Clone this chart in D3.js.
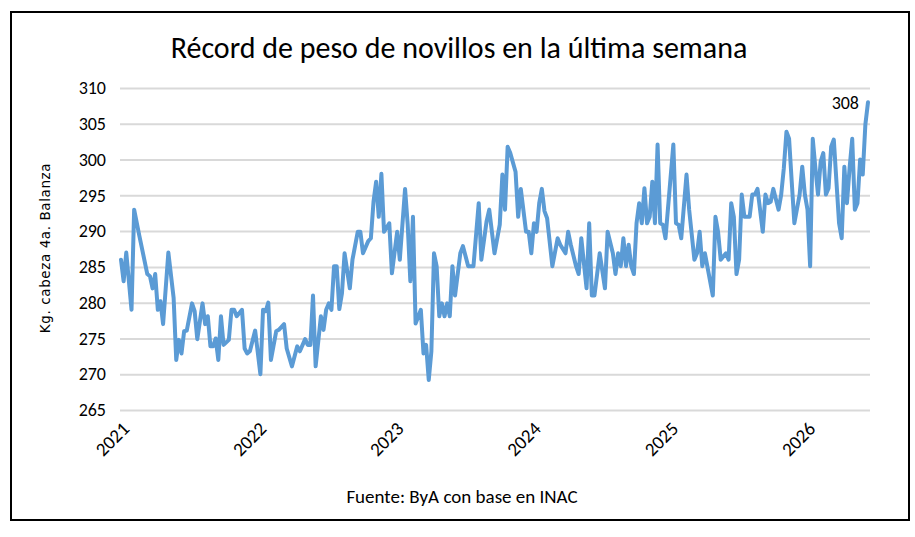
<!DOCTYPE html>
<html>
<head>
<meta charset="utf-8">
<script src="https://cdn.jsdelivr.net/npm/d3@7"></script>
<style>
	body { margin: 0; background: #fff; }
	svg { display: block; }
</style>
</head>
<body>
<svg id="svg" width="915" height="537"></svg>
<script>

// semanas desde el 1/1/2021 (puntos de quiebre)
var weeks = [0, 1, 2, 4, 5, 7, 10, 11, 12, 13, 14, 15, 16, 18, 20, 21, 22, 23, 24, 25,
	27, 28, 29, 31, 32, 33, 34, 35, 36, 37, 38, 39, 41, 42, 43, 44, 46, 47, 48, 49,
	51, 53, 54, 55, 56, 57, 59, 60, 62, 63, 65, 67, 68, 70, 71, 72, 73, 74, 76, 77,
	78, 79, 80, 81, 82, 83, 84, 85, 87, 88, 90, 91, 92, 94, 95, 96, 97, 98, 99, 100,
	102, 103, 105, 106, 108, 109, 110, 111, 112, 114, 115, 116, 117, 118, 119, 120, 121, 122, 123, 124,
	125, 126, 127, 129, 130, 132, 134, 136, 137, 139, 140, 142, 144, 145, 146, 147, 148, 150, 151, 152,
	154, 155, 156, 157, 158, 159, 160, 161, 162, 164, 166, 167, 169, 170, 171, 173, 174, 175, 177, 178,
	179, 180, 182, 184, 185, 187, 188, 189, 190, 191, 192, 193, 194, 195, 196, 197, 198, 199, 200, 201,
	202, 203, 204, 205, 206, 207, 210, 211, 212, 213, 215, 216, 218, 219, 220, 221, 222, 225, 226, 227,
	228, 230, 231, 232, 233, 234, 235, 236, 237, 239, 240, 241, 242, 244, 245, 246, 247, 248, 250, 251,
	252, 253, 254, 255, 256, 258, 259, 260, 261, 262, 263, 264, 265, 266, 267, 268, 269, 270, 271, 272,
	273, 274, 275, 276, 277, 278, 279, 280, 281, 282, 283, 284];

// kg por cabeza
var values = [286, 283, 287, 279, 293, 289.3, 284, 283.7, 282, 284, 279, 280.2, 277, 287, 280.7, 272, 274.8, 272.9, 276, 276.1,
	279.9, 278.8, 274.9, 279.9, 277, 278.1, 273.9, 273.9, 275, 272, 278.1, 274.1, 274.8, 279, 279, 278.1, 279, 273.6, 272.9, 273.2,
	276.1, 270, 279, 278.8, 280, 272, 276, 276.2, 277, 273.6, 271.1, 273.9, 273.2, 274.9, 274.1, 274.1, 281, 271.1, 278.1, 276.2,
	279, 279.9, 279, 285.1, 285.1, 279.1, 281.3, 286.9, 282, 286, 289.9, 289.9, 286.9, 288.6, 289, 294.1, 296.9, 292, 298, 289.9,
	291.1, 284.1, 289.9, 286, 295.9, 290.9, 283, 292, 277.1, 279, 272.9, 274.1, 269.2, 273.2, 286.9, 285.1, 278.1, 279.9, 278.1, 279.9,
	278.1, 285.1, 281, 286.9, 287.9, 285.1, 285.1, 293.9, 286, 291.4, 293, 286.9, 290.9, 297.9, 293, 301.8, 300.9, 298.3, 292, 295.9,
	289.9, 289.9, 286.9, 291.1, 289.9, 293.9, 295.9, 292.8, 291.8, 285.1, 289, 288.1, 286.9, 289.9, 288.1, 285.1, 284, 289, 282, 291.1,
	281, 281, 286.9, 282, 289.9, 286.9, 284, 286.9, 285.1, 289, 285.1, 288.1, 285.1, 284, 291.1, 293.9, 291.1, 296, 291.1, 292,
	296.9, 291.1, 302.1, 291.1, 290.9, 289, 302.1, 291.1, 290.9, 289, 297.9, 293, 286, 286.9, 289.9, 285.1, 286.9, 281, 292, 289.9,
	286, 286.9, 286, 293.9, 292, 284, 286, 295.1, 292, 292, 295.1, 295.1, 295.9, 289.9, 295.1, 293.9, 294.1, 295.9, 293, 295.1,
	298.8, 303.9, 302.9, 296.9, 291.1, 295.1, 299, 295.1, 293, 285.1, 302.9, 298.8, 295.1, 299.7, 300.9, 295.1, 296, 301.8, 302.8, 296.9,
	291.1, 289, 299, 293.9, 298.8, 302.9, 293, 293.9, 300, 297.9, 304.9, 308];

var yTicks = [265, 270, 275, 280, 285, 290, 295, 300, 305, 310];
var years = [2021, 2022, 2023, 2024, 2025, 2026];

var title = "Récord de peso de novillos en la última semana";
var yTitle = "Kg. cabeza 4a. Balanza";
var source = "Fuente: ByA con base en INAC";

var svg = d3.select("svg");
var font = "Carlito, Calibri, 'Liberation Sans', sans-serif";

var start = new Date(2021, 0, 1);
var data = weeks.map(function (w, i) {
	return { date: d3.timeDay.offset(start, w * 7), value: values[i] };
});

var plotL = 120, plotR = 870, plotT = 88, plotB = 410;

var x = d3.scaleTime()
	.domain([start, data[data.length - 1].date])
	.range([plotL + 1, plotR - 2]);

var y = d3.scaleLinear()
	.domain([265, 310])
	.range([plotB, plotT]);

// marco
svg.append("rect")
	.attr("x", 11).attr("y", 12)
	.attr("width", 898).attr("height", 508)
	.style("fill", "none")
	.style("stroke", "#000")
	.style("stroke-width", 2);

svg.append("text")
	.attr("x", 459).attr("y", 58)
	.attr("text-anchor", "middle")
	.style("font-family", font)
	.style("font-size", "30px")
	.style("fill", "#000")
	.text(title);

// grilla y eje y
var yAxis = d3.axisLeft(y)
	.tickValues(yTicks)
	.tickSize(-(plotR - plotL))
	.tickPadding(14);

var gy = svg.append("g")
	.attr("transform", "translate(" + plotL + ",0)")
	.call(yAxis);
gy.select(".domain").remove();
gy.selectAll(".tick line")
	.style("stroke", "#d9d9d9")
	.style("stroke-width", 2);
gy.selectAll(".tick text")
	.style("font-family", font)
	.style("font-size", "18px")
	.style("fill", "#000");

// eje x
var xAxis = d3.axisBottom(x)
	.tickValues(years.map(function (yr) { return new Date(yr, 0, 1); }))
	.tickFormat(d3.timeFormat("%Y"))
	.tickSize(0)
	.tickPadding(0);

var gx = svg.append("g")
	.attr("transform", "translate(0," + plotB + ")")
	.call(xAxis);
gx.select(".domain").remove();
gx.selectAll(".tick text")
	.attr("text-anchor", "end")
	.attr("dy", null)
	.attr("y", null)
	.attr("transform", "translate(9,20) rotate(-45)")
	.style("font-family", font)
	.style("font-size", "19px")
	.style("fill", "#000");

var line = d3.line()
	.x(function (d) { return x(d.date); })
	.y(function (d) { return y(d.value); });

svg.append("path")
	.datum(data)
	.attr("d", line)
	.style("fill", "none")
	.style("stroke", "#5b9bd5")
	.style("stroke-width", 4)
	.style("stroke-linejoin", "round")
	.style("stroke-linecap", "round");

// etiqueta del ultimo dato
var last = data[data.length - 1];
svg.append("text")
	.attr("x", x(last.date) - 9)
	.attr("y", y(last.value) + 7)
	.attr("text-anchor", "end")
	.style("font-family", font)
	.style("font-size", "18px")
	.style("fill", "#000")
	.text(last.value);

svg.append("text")
	.attr("transform", "translate(50," + ((plotT + plotB) / 2 - 1) + ") rotate(-90)")
	.attr("text-anchor", "middle")
	.style("font-family", "'DejaVu Sans', Verdana, sans-serif")
	.style("font-size", "13.5px")
	.style("letter-spacing", "0.6px")
	.style("fill", "#000")
	.text(yTitle);

svg.append("text")
	.attr("x", 462).attr("y", 503)
	.attr("text-anchor", "middle")
	.style("font-family", font)
	.style("font-size", "19px")
	.style("fill", "#000")
	.text(source);

</script>
</body>
</html>
